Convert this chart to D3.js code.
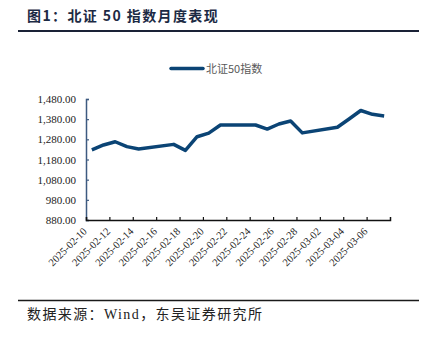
<!DOCTYPE html>
<html>
<head>
<meta charset="utf-8">
<script src="https://cdn.jsdelivr.net/npm/d3@7"></script>
<style>
  html, body { margin: 0; padding: 0; background: #fff; }
  svg { display: block; }
</style>
</head>
<body>
<div id="chart"></div>
<script>
const titleText = "图1：北证 50 指数月度表现";
const sourceText = "数据来源：Wind，东吴证券研究所";
const seriesName = "北证50指数";

const dates = ["2025-02-10","2025-02-11","2025-02-12","2025-02-13","2025-02-14",
  "2025-02-17","2025-02-18","2025-02-19","2025-02-20","2025-02-21",
  "2025-02-24","2025-02-25","2025-02-26","2025-02-27","2025-02-28",
  "2025-03-03","2025-03-04","2025-03-05","2025-03-06","2025-03-07"];
const values = [1228, 1252, 1268, 1244, 1232,
  1255, 1225, 1293, 1311, 1351,
  1351, 1331, 1356, 1371, 1312,
  1340, 1381, 1423, 1404, 1396];
const xTickLabels = ["2025-02-10","2025-02-12","2025-02-14","2025-02-16","2025-02-18",
  "2025-02-20","2025-02-22","2025-02-24","2025-02-26","2025-02-28",
  "2025-03-02","2025-03-04","2025-03-06"];
const yTicks = [880, 980, 1080, 1180, 1280, 1380, 1480];
const xDomain = ["2025-02-10", "2025-03-08"];

const W = 437, H = 337;
const parse = d3.utcParse("%Y-%m-%d");
const fmtY = d3.format(",.2f");

const svg = d3.select("#chart").append("svg").attr("width", W).attr("height", H);

// title
svg.append("text").attr("x", 27).attr("y", 21)
  .attr("font-family", "'Noto Sans CJK SC', sans-serif").attr("font-weight", "bold")
  .attr("font-size", 14).attr("letter-spacing", 1.4).attr("fill", "#1c2a44").text(titleText);
svg.append("line").attr("x1", 18).attr("x2", 419).attr("y1", 31).attr("y2", 31)
  .attr("stroke", "#1a2236").attr("stroke-width", 2);

const x = d3.scaleUtc().domain(xDomain.map(parse)).range([86, 390]);
const y = d3.scaleLinear().domain([880, 1480]).range([220, 99]);

// legend
svg.append("line").attr("x1", 171).attr("x2", 203).attr("y1", 68.5).attr("y2", 68.5)
  .attr("stroke", "#0b4475").attr("stroke-width", 3.5).attr("stroke-linecap", "round");
svg.append("text").attr("x", 206).attr("y", 72.5)
  .attr("font-family", "'Noto Sans CJK SC', sans-serif").attr("font-size", 11)
  .attr("fill", "#595959").text(seriesName);

// y axis
const yAxis = d3.axisLeft(y).tickValues(yTicks).tickFormat(fmtY).tickSize(-3).tickPadding(10);
const gy = svg.append("g").attr("transform", "translate(86,0)").call(yAxis);
gy.select(".domain").attr("stroke", "#3d5a80").attr("stroke-width", 1.5);
gy.selectAll(".tick line").attr("stroke", "#3d5a80").attr("stroke-width", 1.2);
gy.selectAll(".tick text").attr("font-family", "'Liberation Serif', serif")
  .attr("font-size", 11).attr("fill", "#222");

// x axis
const xAxis = d3.axisBottom(x).tickValues(xTickLabels.map(parse)).tickSize(-3)
  .tickFormat(d3.utcFormat("%Y-%m-%d"));
const gx = svg.append("g").attr("transform", "translate(0,220)").call(xAxis);
gx.select(".domain").attr("stroke", "#111").attr("stroke-width", 1.5);
gx.selectAll(".tick line").attr("stroke", "#111").attr("stroke-width", 1.2);
gx.selectAll(".tick text").attr("font-family", "'Liberation Serif', serif")
  .attr("font-size", 10.5).attr("fill", "#222")
  .attr("text-anchor", "end").attr("dy", null).attr("y", 0)
  .attr("transform", "translate(1,12) rotate(-45)");

// line
const pts = dates.map((d, i) => ({ date: d3.utcHour.offset(parse(d), 12), v: values[i] }));
const line = d3.line().x(d => x(d.date)).y(d => y(d.v));
svg.append("path").datum(pts).attr("d", line).attr("fill", "none")
  .attr("stroke", "#0b4475").attr("stroke-width", 3.5)
  .attr("stroke-linejoin", "round").attr("stroke-linecap", "butt");

// source
svg.append("line").attr("x1", 18).attr("x2", 419).attr("y1", 300.5).attr("y2", 300.5)
  .attr("stroke", "#1a1a1a").attr("stroke-width", 1.3);
svg.append("text").attr("x", 27).attr("y", 319)
  .attr("font-family", "'Liberation Serif', 'Noto Sans CJK SC', serif")
  .attr("font-size", 14).attr("letter-spacing", 1.4).attr("fill", "#222").text(sourceText);
</script>
</body>
</html>
